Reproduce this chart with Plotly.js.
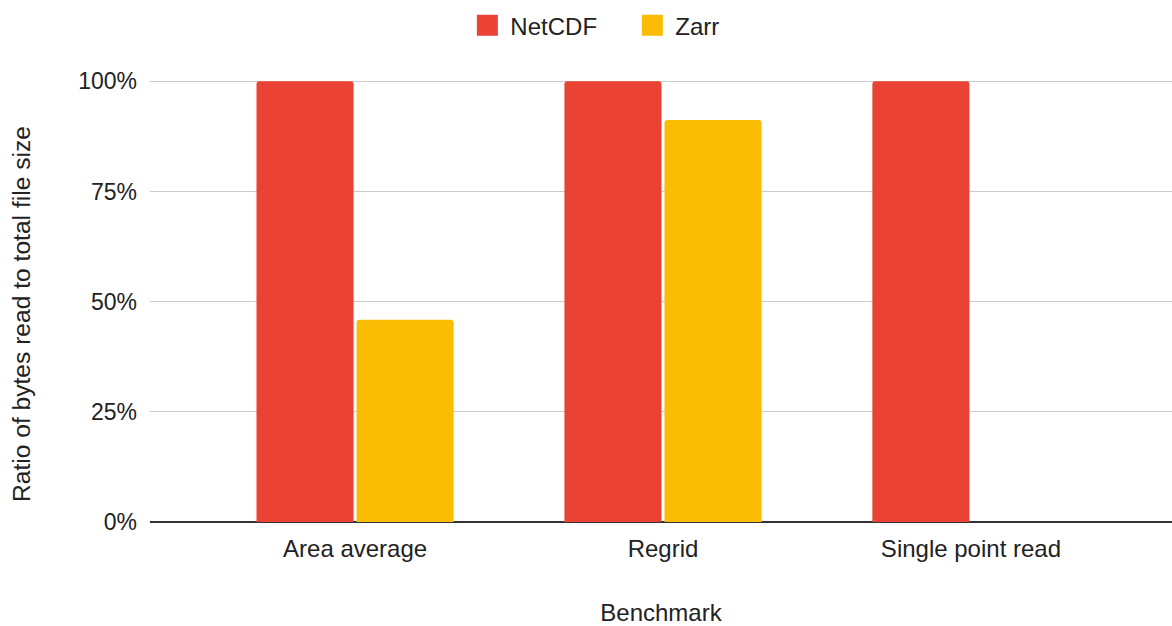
<!DOCTYPE html>
<html>
<head>
<meta charset="utf-8">
<script src="https://cdn.plot.ly/plotly-3.0.1.min.js"></script>
<style>html,body{margin:0;padding:0;background:#fff;}#chart{width:1172px;height:626px;}</style>
</head>
<body>
<div id="chart"></div>
<script>
const categories = ["Area average", "Regrid", "Single point read"];
const seriesNames = ["NetCDF", "Zarr"];
const netcdf = [1.0, 1.0, 1.0];
const zarr = [0.459, 0.912, 0];
const yTicks = [0, 0.25, 0.5, 0.75, 1.0];
const yTickLabels = ["0%", "25%", "50%", "75%", "100%"];
const colors = ["#EA4335", "#FBBC04"];
const xTitle = "Benchmark";
const yTitle = "Ratio of bytes read to total file size";

const font = {family: "Liberation Sans, Arial, sans-serif", size: 24, color: "#222"};
const yTickFont = {family: "Liberation Sans, Arial, sans-serif", size: 23, color: "#222"};
const yTitleFont = {family: "Liberation Sans, Arial, sans-serif", size: 24.6, color: "#222"};

const traces = [
  {type: "bar", name: seriesNames[0], legendgroup: "a", showlegend: false, x: categories, y: netcdf, marker: {color: colors[0], cornerradius: 3}, hoverinfo: "none"},
  {type: "bar", name: seriesNames[1], legendgroup: "b", showlegend: false, x: categories, y: zarr, marker: {color: colors[1], cornerradius: 3}, hoverinfo: "none"},
  {type: "scatter", mode: "markers", name: seriesNames[0], legendgroup: "a", x: [null], y: [null], marker: {symbol: "square", size: 20, color: colors[0], line: {color: colors[0], width: 5}}},
  {type: "scatter", mode: "markers", name: seriesNames[1], legendgroup: "b", x: [null], y: [null], marker: {symbol: "square", size: 20, color: colors[1], line: {color: colors[1], width: 5}}}
];

const layout = {
  width: 1172, height: 626,
  margin: {l: 150, r: 0, t: 80, b: 104},
  paper_bgcolor: "#fff", plot_bgcolor: "#fff",
  font: font,
  barmode: "group",
  bargap: 0.35,
  bargroupgap: 0.03,
  showlegend: true,
  legend: {orientation: "h", xref: "container", x: 0.537, xanchor: "center", yref: "container", y: 0.995, yanchor: "top", font: font, itemclick: false, itemsizing: "trace", entrywidth: 114, itemwidth: 36},
  xaxis: {
    type: "category",
    range: [-0.666, 2.653],
    showgrid: false, zeroline: false, showline: false, ticks: "",
    tickfont: font,
    ticklabelstandoff: 10,
    title: {text: xTitle, font: font, standoff: 47}
  },
  yaxis: {
    range: [0, 1.003],
    tickvals: yTicks, ticktext: yTickLabels,
    tickfont: yTickFont,
    gridcolor: "#cccccc", gridwidth: 1,
    zeroline: true, zerolinecolor: "#333", zerolinewidth: 1.5,
    showline: false, ticks: "",
    ticklabelstandoff: 12
  },
  annotations: [{
    text: yTitle, textangle: -90, showarrow: false,
    xref: "paper", yref: "paper", x: -0.1252, y: 0.4706,
    xanchor: "center", yanchor: "middle", font: yTitleFont
  }]
};

Plotly.newPlot("chart", traces, layout, {displayModeBar: false, staticPlot: true});
</script>
</body>
</html>
